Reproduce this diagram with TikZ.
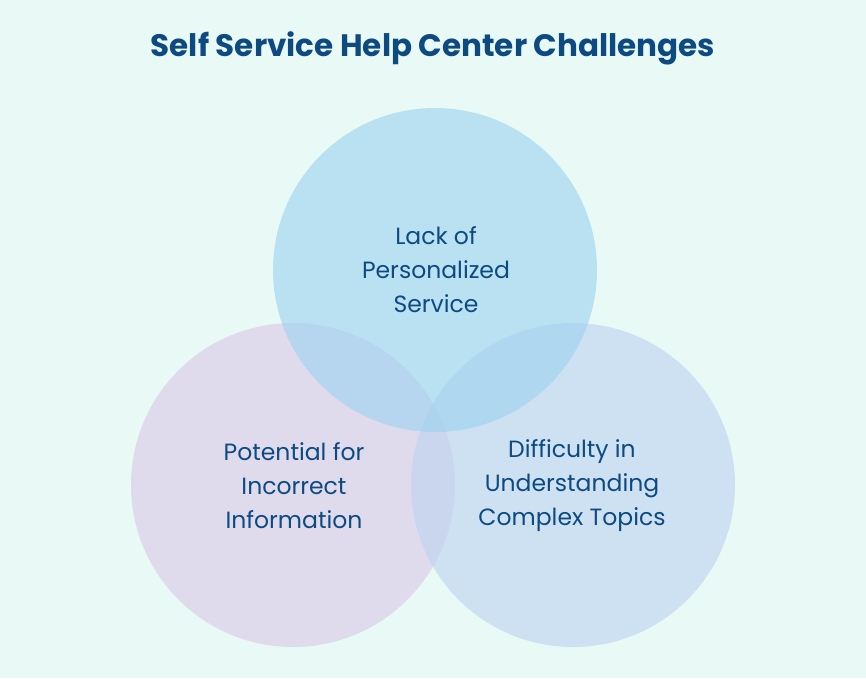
\documentclass[tikz,border=0pt]{standalone}
\usepackage{fontspec}
\setmainfont{Poppins}
\definecolor{bg}{HTML}{E9FAF6}
\definecolor{ink}{HTML}{0E4A82}
\definecolor{ctop}{HTML}{9ED2F0}
\definecolor{cleft}{HTML}{D9C8E6}
\definecolor{cright}{HTML}{BCD3F0}
\tikzset{circ/.style={circle,minimum size=324pt,inner sep=0pt,fill opacity=0.62,draw=none},
lbl/.style={text=ink,font=\fontsize{23.5}{34}\selectfont,align=center}}
\begin{document}
\begin{tikzpicture}[x=1pt,y=-1pt]
\fill[bg] (0,0) rectangle (866,678);
\useasboundingbox (0,0) rectangle (866,678);
\node[lbl,font=\fontsize{31}{36}\selectfont\bfseries] (title) at (433,48) {Self Service Help Center Challenges};
\node[circ,fill=cleft] (left) at (293,485) {};
\node[circ,fill=cright] (right) at (573,485) {};
\node[circ,fill=ctop] (top) at (435,270) {};
\node[lbl] (ttop) at (436,270) {Lack of\\Personalized\\Service};
\node[lbl] (tleft) at (294,486) {Potential for\\Incorrect\\Information};
\node[lbl] (tright) at (572,486) {Difficulty in\\Understanding\\Complex Topics};
\end{tikzpicture}
\end{document}
